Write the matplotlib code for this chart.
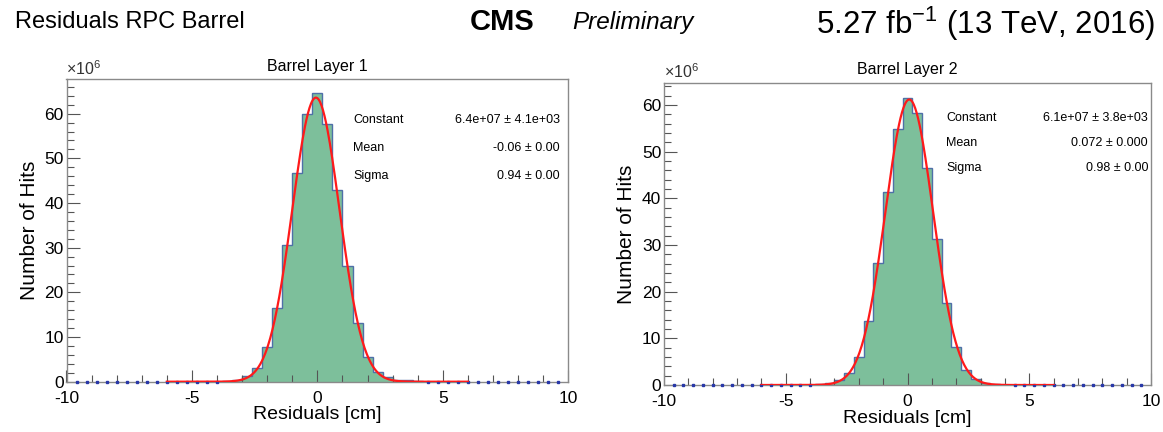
import numpy as np
import matplotlib
matplotlib.use("Agg")
import matplotlib.pyplot as plt

plt.rcParams['font.family'] = ['Liberation Sans', 'DejaVu Sans']
plt.rcParams['axes.unicode_minus'] = False

# bin centres (cm), bins 0.4 cm wide
centers = [-3.6, -3.2, -2.8, -2.4, -2.0, -1.6, -1.2, -0.8, -0.4, 0.0,
           0.4, 0.8, 1.2, 1.6, 2.0, 2.4, 2.8, 3.2, 3.6, 4.0]
# hits per bin, in units of 1e6
layer1 = [0.15, 0.4, 1.3, 3.1, 7.7, 16.6, 30.6, 46.7, 60.0, 64.6,
          57.8, 42.9, 26.0, 13.1, 5.5, 2.2, 1.0, 0.4, 0.3, 0.1]
layer2 = [0.2, 0.5, 1.1, 2.5, 5.9, 13.7, 26.1, 41.3, 54.9, 61.6,
          58.4, 46.6, 31.3, 17.5, 8.2, 3.2, 1.2, 0.5, 0.2, 0.1]

# gaussian fit results (constant in 1e6, mean, sigma)
fit1 = (63.6, -0.06, 0.94)
fit2 = (61.2, 0.072, 0.98)
stats1 = ["6.4e+07 \u00b1 4.1e+03", "-0.06 \u00b1 0.00", "0.94 \u00b1 0.00"]
stats2 = ["6.1e+07 \u00b1 3.8e+03", "0.072 \u00b1 0.000", "0.98 \u00b1 0.00"]
titles = ["Barrel Layer 1", "Barrel Layer 2"]
ymax = [67.7, 64.8]

W, H = 1163, 432
fig = plt.figure(figsize=(W / 100, H / 100), dpi=100)

def px(x, y):
    return x / W, 1 - y / H

def panel(rect, vals, fit, stats, title, ytop, txt):
    ax = fig.add_axes(rect)
    c = np.array(centers)
    edges = np.append(c - 0.2, c[-1] + 0.2)
    ax.stairs(vals, edges, fill=True, color='#7dbf9b', lw=0)
    ax.stairs(vals, edges, color='#4f6fa8', lw=1.0)
    # empty bins drawn as small blue points on the axis
    empty = np.round(np.arange(-9.6, 9.7, 0.4), 1)
    empty = empty[(empty < c[0] - 0.1) | (empty > c[-1] + 0.1)]
    ax.plot(empty, np.zeros_like(empty), ls='none', marker='s', ms=1.6,
            color='#2838a8', clip_on=False, zorder=5)
    xf = np.linspace(-6, 6, 400)
    const, mean, sig = fit
    ax.plot(xf, const * np.exp(-0.5 * ((xf - mean) / sig) ** 2),
            color='#ff1a1a', lw=1.6, zorder=6)
    ax.set_xlim(-10, 10)
    ax.set_ylim(0, ytop)
    ax.set_xticks([-10, -5, 0, 5, 10])
    ax.set_xticks(np.arange(-10, 11, 1), minor=True)
    ax.set_yticks(np.arange(0, 70, 10))
    ax.set_yticks(np.arange(0, ytop, 2), minor=True)
    ax.tick_params(direction='in', top=False, right=False, labelsize=12.5,
                   length=9, width=0.8, color='#555555')
    ax.tick_params(axis='x', pad=6.5)
    ax.tick_params(axis='y', pad=2)
    ax.tick_params(which='minor', direction='in', length=5, width=0.8,
                   color='#555555')
    for s in ax.spines.values():
        s.set_color('#8a8a8a')
        s.set_linewidth(1.0)
    ax.set_xlabel('Residuals [cm]', fontsize=14, labelpad=0.5)
    ax.set_ylabel('Number of Hits', fontsize=15, labelpad=4)
    ax.set_title(title, fontsize=11.5, pad=6)
    ax.text(0.0, 1.005, '\u00d710$^{\\mathregular{6}}$', transform=ax.transAxes,
            fontsize=11.5, ha='left', va='bottom', color='#333333')
    xl, xr, y0, dy = txt
    for i, (name, val) in enumerate(zip(['Constant', 'Mean', 'Sigma'], stats)):
        fig.text(*px(xl, y0 + i * dy), name, fontsize=9, va='center', ha='left')
        fig.text(*px(xr, y0 + i * dy), val, fontsize=9, va='center', ha='right')
    return ax

panel([66.5 / W, 1 - 381.7 / H, 501.8 / W, 302.4 / H], layer1, fit1, stats1,
      titles[0], ymax[0], (353, 560, 120, 28))
panel([664 / W, 1 - 385 / H, 487 / W, 302.3 / H], layer2, fit2, stats2,
      titles[1], ymax[1], (946, 1148, 118, 25))

fig.text(*px(15, 22), 'Residuals RPC Barrel', fontsize=17, va='center', ha='left')
fig.text(*px(470, 22), 'CMS', fontsize=21, fontweight='bold', va='center', ha='left')
fig.text(*px(572, 22), 'Preliminary', fontsize=17.5, style='italic', va='center', ha='left')
fig.text(*px(1155, 24), '5.27 fb$^{\\mathregular{-1}}$ (13 TeV, 2016)', fontsize=22.5,
         va='center', ha='right')

fig.savefig('out.png', dpi=100)
